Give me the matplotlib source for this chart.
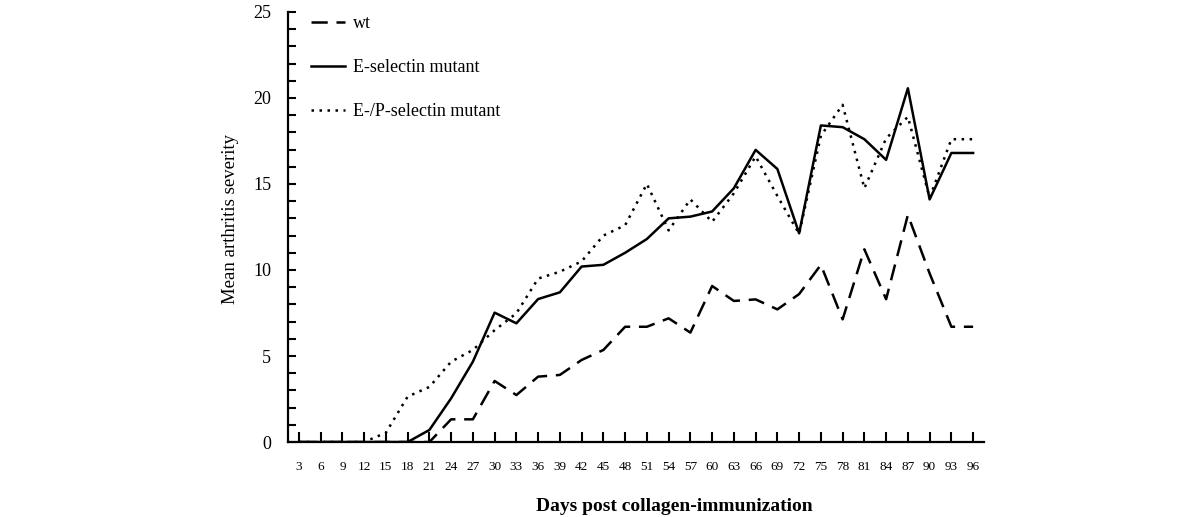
import numpy as np
import matplotlib
matplotlib.use("Agg")
import matplotlib.pyplot as plt
from matplotlib.ticker import MultipleLocator

plt.rcParams['font.family'] = ['Liberation Serif', 'DejaVu Serif']

# days post immunization
days = list(range(3, 97, 3))

wt = [0, 0, 0, 0, 0, 0, 0, 1.32, 1.32, 3.55, 2.73, 3.8, 3.9, 4.77, 5.35, 6.7,
      6.7, 7.19, 6.36, 9.07, 8.2, 8.29, 7.71, 8.6, 10.3, 7.13, 11.2, 8.3,
      13.2, 9.8, 6.7, 6.7]
e_sel = [0, 0, 0, 0, 0, 0, 0.7, 2.54, 4.67, 7.52, 6.9, 8.31, 8.7, 10.2, 10.3,
         11.0, 11.8, 13.0, 13.1, 13.4, 14.75, 16.98, 15.87, 12.13, 18.4, 18.3,
         17.6, 16.4, 20.56, 14.1, 16.8, 16.8]
ep_sel = [0, 0, 0, 0, 0.54, 2.64, 3.2, 4.67, 5.35, 6.5, 7.48, 9.5, 9.9, 10.5,
          12.0, 12.6, 15.0, 12.3, 14.1, 12.8, 14.46, 16.6, 14.3, 12.1, 17.8,
          19.6, 14.75, 17.65, 18.9, 14.2, 17.6, 17.6]

labels = ["wt", "E-selectin mutant", "E-/P-selectin mutant"]

fig = plt.figure(figsize=(12, 5.17), dpi=100)
ax = fig.add_axes([0.24, 0.145, 0.58, 0.832])

ax.plot(days, wt, color='black', lw=1.8, linestyle=(0, (6.5, 3.5)), label=labels[0])
ax.plot(days, e_sel, color='black', lw=1.8, linestyle='-', label=labels[1])
ax.plot(days, ep_sel, color='black', lw=1.8, linestyle=(0, (1, 2.2)), label=labels[2])

ax.set_xlim(1.5, 97.5)
ax.set_ylim(0, 25)

ax.set_xticks(days)
ax.set_xticklabels([str(d) for d in days])
ax.yaxis.set_major_locator(MultipleLocator(5))
ax.yaxis.set_minor_locator(MultipleLocator(1))

for s in ['top', 'right']:
    ax.spines[s].set_visible(False)
for s in ['left', 'bottom']:
    ax.spines[s].set_linewidth(1.6)

ax.tick_params(axis='x', direction='in', length=7, width=1.5, pad=14, labelsize=9.5)
ax.tick_params(axis='y', which='both', direction='in', length=6, width=1.5, pad=12, labelsize=13)

ax.set_xlabel("Days post collagen-immunization", fontsize=14, fontweight='bold')
ax.xaxis.set_label_coords(0.555, -0.149)
ax.xaxis.label.set_verticalalignment('center')
ax.set_ylabel("Mean arthritis severity", fontsize=13.5)
ax.yaxis.set_label_coords(-0.083, 0.519)
ax.yaxis.label.set_verticalalignment('center')

ax.legend(loc='upper left', bbox_to_anchor=(0.01, 1.03), frameon=False,
          fontsize=13, handlelength=1.85, labelspacing=1.5, handletextpad=0.45)

fig.savefig("out.png", dpi=100)
